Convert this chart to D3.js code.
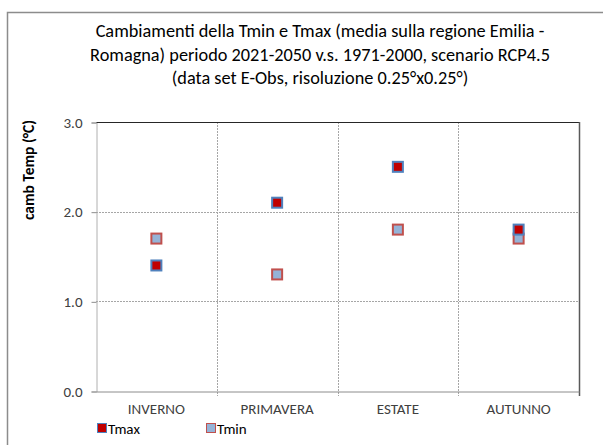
<!DOCTYPE html>
<html>
<head>
<meta charset="utf-8">
<script src="https://cdn.jsdelivr.net/npm/d3@7"></script>
<style>
  body { margin: 0; background: #fff; }
  text { font-family: Carlito, Lato, "Liberation Sans", sans-serif; }
</style>
</head>
<body>
<div class="chart"></div>
<script>
const seasons = ['INVERNO', 'PRIMAVERA', 'ESTATE', 'AUTUNNO'];
const tmax = [1.4, 2.1, 2.5, 1.8];
const tmin = [1.7, 1.3, 1.8, 1.7];
const yTicks = [0, 1, 2, 3];
const titleLines = [
  'Cambiamenti della Tmin e Tmax (media sulla regione Emilia -',
  'Romagna) periodo 2021-2050 v.s. 1971-2000, scenario RCP4.5',
  '(data set E-Obs, risoluzione 0.25°x0.25°)'
];

const width = 603, height = 445;
const margin = {left: 96, right: 24, top: 122, bottom: 54};

const svg = d3.select('.chart')
  .append('svg')
  .attr('width', width)
  .attr('height', height);

// outer frame
svg.append('rect')
  .attr('x', 7.5).attr('y', 12.5)
  .attr('width', 620).attr('height', 460)
  .attr('fill', 'none')
  .attr('stroke', '#8c8c8c')
  .attr('stroke-width', 1.5);

const x = d3.scaleBand()
  .domain(seasons)
  .range([margin.left, width - margin.right]);

const y = d3.scaleLinear()
  .domain([0, 3])
  .range([height - margin.bottom, margin.top]);

// title
svg.append('g').selectAll('text')
  .data(titleLines)
  .enter()
  .append('text')
  .attr('x', 320)
  .attr('y', (d, i) => 37 + i * 23.5)
  .attr('text-anchor', 'middle')
  .attr('font-size', 18.3)
  .attr('fill', '#000')
  .text(d => d);

// horizontal gridlines
svg.append('g').selectAll('line')
  .data(yTicks.filter(d => d > 0 && d < 3))
  .enter()
  .append('line')
  .attr('x1', margin.left).attr('x2', width - margin.right)
  .attr('y1', d => Math.round(y(d)) + 0.5).attr('y2', d => Math.round(y(d)) + 0.5)
  .attr('stroke', '#a6a6a6')
  .attr('stroke-dasharray', '2,1');

// vertical gridlines between categories
const bounds = seasons.slice(1).map(s => x(s));
svg.append('g').selectAll('line')
  .data(bounds)
  .enter()
  .append('line')
  .attr('x1', d => Math.round(d) + 0.5).attr('x2', d => Math.round(d) + 0.5)
  .attr('y1', margin.top).attr('y2', y(0) + 5)
  .attr('stroke', '#a6a6a6')
  .attr('stroke-dasharray', '2,1');

// plot border top and right
svg.append('line')
  .attr('x1', margin.left).attr('x2', width - margin.right + 0.5)
  .attr('y1', y(3) + 0.5).attr('y2', y(3) + 0.5)
  .attr('stroke', '#262626');
svg.append('line')
  .attr('x1', width - margin.right + 0.5).attr('x2', width - margin.right + 0.5)
  .attr('y1', margin.top).attr('y2', y(0) + 5)
  .attr('stroke', '#595959')
  .attr('stroke-width', 1.5);

// y axis
const yAxis = svg.append('g')
  .attr('transform', `translate(${margin.left + 0.5},0.5)`)
  .call(d3.axisLeft(y).tickValues(yTicks).tickFormat(d3.format('.1f')).tickSize(5).tickPadding(9));
yAxis.select('.domain').attr('stroke', '#b0b0b0');
yAxis.selectAll('.tick line').attr('stroke', '#8c8c8c');
yAxis.selectAll('.tick text')
  .attr('font-size', 15)
  .attr('fill', '#404040')
  .attr('font-family', 'Carlito, Lato, sans-serif');

// x axis
const xAxis = svg.append('g')
  .attr('transform', `translate(0,${Math.round(y(0)) + 0.5})`)
  .call(d3.axisBottom(x).tickSize(0).tickPadding(12));
xAxis.select('.domain').attr('stroke', '#8c8c8c');
xAxis.selectAll('.tick text')
  .attr('font-size', 15)
  .attr('fill', '#404040')
  .attr('font-family', 'Carlito, Lato, sans-serif');

// y label
svg.append('text')
  .attr('transform', 'translate(34,170) rotate(-90)')
  .attr('text-anchor', 'middle')
  .attr('font-size', 15.5)
  .attr('font-weight', 'bold')
  .text('camb Temp (°C)');

// markers
const cx = d => x(d) + x.bandwidth() / 2;
const size = 10;

svg.append('g').selectAll('rect')
  .data(seasons.map((s, i) => ({s, v: tmin[i]})))
  .enter()
  .append('rect')
  .attr('x', d => cx(d.s) - size / 2)
  .attr('y', d => y(d.v) - size / 2)
  .attr('width', size).attr('height', size)
  .attr('fill', '#95b3d7')
  .attr('stroke', '#c0504d')
  .attr('stroke-width', 2);

svg.append('g').selectAll('rect')
  .data(seasons.map((s, i) => ({s, v: tmax[i]})))
  .enter()
  .append('rect')
  .attr('x', d => cx(d.s) - size / 2)
  .attr('y', d => y(d.v) - size / 2)
  .attr('width', size).attr('height', size)
  .attr('fill', '#c00000')
  .attr('stroke', '#4f81bd')
  .attr('stroke-width', 2);

// legend
const legend = [
  {name: 'Tmax', fill: '#c00000', stroke: '#4f81bd', x: 97},
  {name: 'Tmin', fill: '#95b3d7', stroke: '#c0504d', x: 206}
];
const lg = svg.append('g').selectAll('g')
  .data(legend)
  .enter()
  .append('g')
  .attr('transform', d => `translate(${d.x},423)`);
lg.append('rect')
  .attr('x', 0.5).attr('y', 0.5)
  .attr('width', 9).attr('height', 9)
  .attr('fill', d => d.fill)
  .attr('stroke', d => d.stroke)
  .attr('stroke-width', 1);
lg.append('text')
  .attr('x', 11).attr('y', 10.5)
  .attr('font-size', 15)
  .attr('fill', '#000')
  .text(d => d.name);
</script>
</body>
</html>
